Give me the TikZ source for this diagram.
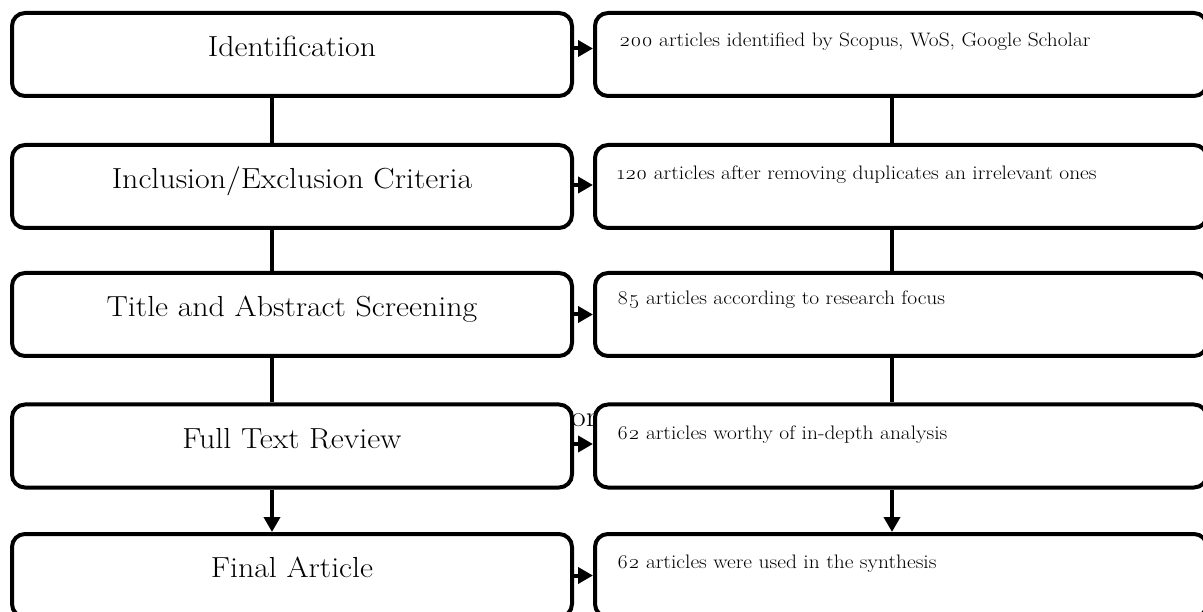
\documentclass[tikz,border=0pt]{standalone}
\usepackage{fontspec}
\setmainfont{Latin Modern Roman}[Numbers=OldStyle, FakeStretch=1.1]
\usetikzlibrary{arrows.meta}
\begin{document}
\begin{tikzpicture}[x=1pt,y=-1pt,
  box/.style={draw, line width=4pt, rounded corners=13pt, fill=white, inner sep=0pt, minimum height=83pt},
  lbox/.style={box, minimum width=560pt},
  rbox/.style={box, minimum width=612pt},
  lbl/.style={font=\fontsize{29}{34}\selectfont, anchor=base, inner sep=0pt},
  rtxt/.style={font=\fontsize{19.5}{23}\selectfont, anchor=base west, inner sep=0pt},
  conn/.style={line width=4pt},
  arr/.style={line width=4pt, -{Triangle[length=15pt,width=16pt]}}]
\useasboundingbox (0,0) rectangle (1203,612);
\node[lbl, anchor=base west] (stray) at (571,427) {or};
% left column
\node[lbox] (L1) at (292,54.5) {};
\node[lbox] (L2) at (292,186.5) {};
\node[lbox] (L3) at (292,314.5) {};
\node[lbox] (L4) at (292,446) {};
\node[lbox] (L5) at (292,575.5) {};
% right column
\node[rbox] (R1) at (901,54.5) {};
\node[rbox] (R2) at (901,186.5) {};
\node[rbox] (R3) at (901,314.5) {};
\node[rbox] (R4) at (901,446) {};
\node[rbox] (R5) at (901,575.5) {};
% labels
\node[lbl] (t1) at ([yshift=-2.5pt]L1.center) {Identification};
\node[lbl] (t2) at ([yshift=-2.5pt]L2.center) {Inclusion/Exclusion Criteria};
\node[lbl] (t3) at ([yshift=-2pt]L3.center) {Title and Abstract Screening};
\node[lbl] (t4) at ([yshift=-2pt]L4.center) {Full Text Review};
\node[lbl] (t5) at ([yshift=-1.5pt]L5.center) {Final Article};
\node[rtxt] (s1) at ([xshift=26pt,yshift=-36pt]R1.north west) {200 articles identified by Scopus, WoS, Google Scholar};
\node[rtxt] (s2) at ([xshift=24pt,yshift=-37pt]R2.north west) {120 articles after removing duplicates an irrelevant ones};
\node[rtxt] (s3) at ([xshift=24pt,yshift=-34pt]R3.north west) {85 articles according to research focus};
\node[rtxt] (s4) at ([xshift=24pt,yshift=-37pt]R4.north west) {62 articles worthy of in-depth analysis};
\node[rtxt] (s5) at ([xshift=24pt,yshift=-36pt]R5.north west) {62 articles were used in the synthesis};
% vertical connectors
\coordinate (cl) at (272,0);
\coordinate (cr) at (892,0);
\draw[conn] (L1.south -| cl) -- (L2.north -| cl);
\draw[conn] (L2.south -| cl) -- (L3.north -| cl);
\draw[conn] (L3.south -| cl) -- (L4.north -| cl);
\draw[arr] (L4.south -| cl) -- (L5.north -| cl);
\draw[conn] (R1.south -| cr) -- (R2.north -| cr);
\draw[conn] (R2.south -| cr) -- (R3.north -| cr);
\draw[conn] (R3.south -| cr) -- (R4.north -| cr);
\draw[arr] (R4.south -| cr) -- (R5.north -| cr);
% horizontal arrows
\draw[arr] ([yshift=6pt]L1.east) -- ([yshift=6pt]R1.west);
\draw[arr] ([yshift=1.5pt]L2.east) -- ([yshift=1.5pt]R2.west);
\draw[arr] (L3.east) -- (R3.west);
\draw[arr] ([yshift=2pt]L4.east) -- ([yshift=2pt]R4.west);
\draw[arr] (L5.east) -- (R5.west);
\end{tikzpicture}
\end{document}
